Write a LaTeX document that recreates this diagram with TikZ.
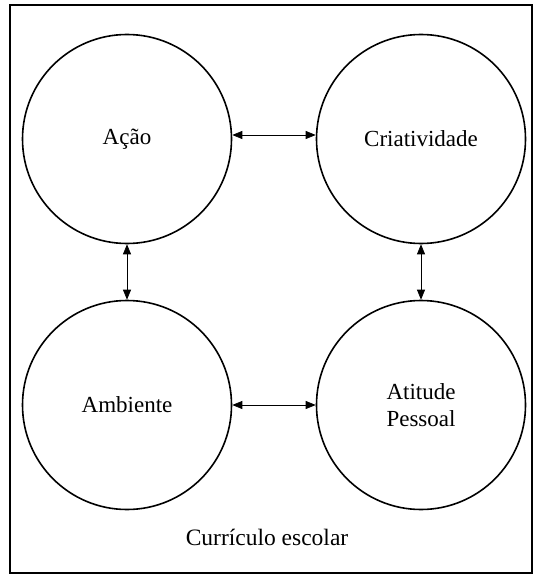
\documentclass[tikz,border=0pt]{standalone}
\usepackage{fontspec}
\setmainfont{Liberation Serif}
\usetikzlibrary{arrows.meta}
\begin{document}
\begin{tikzpicture}[x=1pt,y=-1pt,
  bubble/.style={circle,draw,line width=1.6pt,minimum size=209pt,inner sep=0pt,align=center,font=\fontsize{23}{27}\selectfont},
  link/.style={line width=0.7pt,{Triangle[length=10pt,width=8pt]}-{Triangle[length=10pt,width=8pt]}},
  lbl/.style={font=\fontsize{23.5}{27}\selectfont}]
\useasboundingbox (0,0) rectangle (534,575);
\draw[line width=2pt] (9.5,5) rectangle (532,573);
\node[bubble] (acao) at (127,139) {Ação};
\node[bubble] (cria) at (421,139) {Criatividade};
\node[bubble] (amb) at (127,405) {Ambiente};
\node[bubble] (atit) at (421,405) {Atitude\\Pessoal};
\node[lbl] (curr) at (267,537) {Currículo escolar};
\draw[link] ([yshift=4pt]acao.east) -- ([yshift=4pt]cria.west);
\draw[link] (amb.east) -- (atit.west);
\draw[link] (acao.south) -- (amb.north);
\draw[link] (cria.south) -- (atit.north);
\end{tikzpicture}
\end{document}
